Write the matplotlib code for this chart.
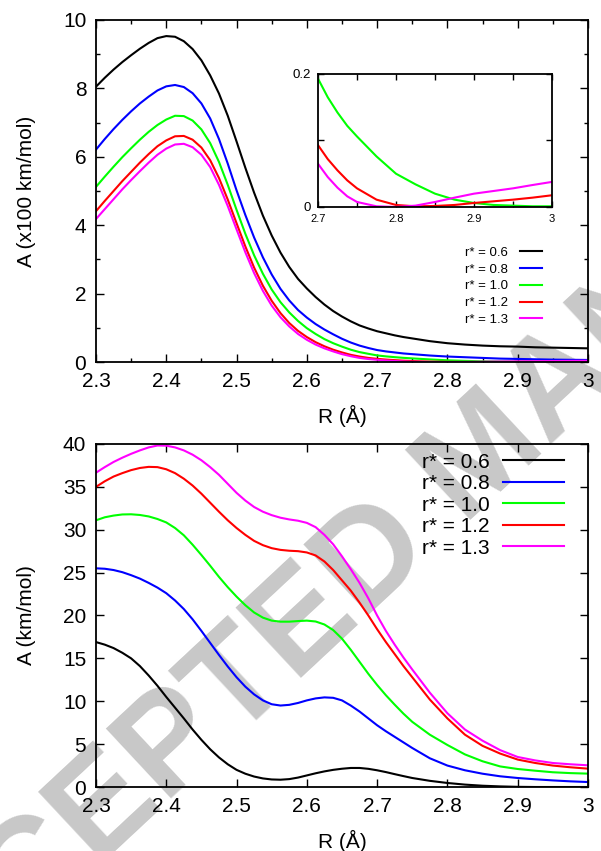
import matplotlib
matplotlib.use('Agg')
import matplotlib.pyplot as plt
from matplotlib.ticker import MultipleLocator, FuncFormatter, FixedLocator

plt.rcParams['font.family'] = ['Liberation Sans', 'DejaVu Sans']

# bond length R (Angstrom), same grid for every curve
R = [2.3000, 2.3125, 2.3250, 2.3375, 2.3500, 2.3625, 2.3750, 2.3875,
     2.4000, 2.4125, 2.4250, 2.4375, 2.4500, 2.4625, 2.4750, 2.4875,
     2.5000, 2.5125, 2.5250, 2.5375, 2.5500, 2.5625, 2.5750, 2.5875,
     2.6000, 2.6125, 2.6250, 2.6375, 2.6500, 2.6625, 2.6750, 2.6875,
     2.7000, 2.7125, 2.7250, 2.7375, 2.7500, 2.775, 2.800, 2.825,
     2.850, 2.875, 2.900, 2.925, 2.950, 2.975, 3.000]

labels = ['r* = 0.6', 'r* = 0.8', 'r* = 1.0', 'r* = 1.2', 'r* = 1.3']
colors = ['#000000', '#0000ff', '#00ff00', '#ff0000', '#ff00ff']

# top panel, A in units of 100 km/mol
top_06 = [8.05, 8.31, 8.55, 8.77, 8.97, 9.16, 9.33, 9.47,
          9.53, 9.51, 9.38, 9.15, 8.82, 8.38, 7.85, 7.20,
          6.45, 5.68, 4.95, 4.28, 3.70, 3.20, 2.78, 2.43,
          2.15, 1.90, 1.68, 1.49, 1.33, 1.19, 1.07, 0.98,
          0.90, 0.84, 0.78, 0.73, 0.69, 0.61, 0.55, 0.51,
          0.48, 0.46, 0.45, 0.43, 0.42, 0.41, 0.40]
top_08 = [6.21, 6.52, 6.81, 7.08, 7.33, 7.56, 7.76, 7.94,
          8.06, 8.10, 8.04, 7.86, 7.56, 7.12, 6.52, 5.80,
          5.02, 4.30, 3.64, 3.06, 2.56, 2.14, 1.80, 1.52,
          1.30, 1.11, 0.95, 0.81, 0.68, 0.57, 0.48, 0.41,
          0.35, 0.31, 0.28, 0.25, 0.23, 0.19, 0.16, 0.14,
          0.12, 0.10, 0.09, 0.08, 0.07, 0.065, 0.06]
top_10 = [5.12, 5.42, 5.71, 5.99, 6.25, 6.50, 6.73, 6.93,
          7.09, 7.20, 7.19, 7.06, 6.80, 6.40, 5.85, 5.18,
          4.45, 3.75, 3.12, 2.58, 2.12, 1.75, 1.45, 1.20,
          0.99, 0.82, 0.67, 0.55, 0.45, 0.36, 0.29, 0.24,
          0.193, 0.165, 0.142, 0.122, 0.106, 0.076, 0.050, 0.034,
          0.020, 0.011, 0.006, 0.003, 0.002, 0.001, 0.001]
top_12 = [4.41, 4.71, 5.00, 5.29, 5.56, 5.83, 6.08, 6.31,
          6.48, 6.60, 6.61, 6.50, 6.27, 5.90, 5.38, 4.75,
          4.06, 3.38, 2.76, 2.23, 1.79, 1.43, 1.14, 0.91,
          0.73, 0.58, 0.46, 0.36, 0.28, 0.21, 0.16, 0.12,
          0.093, 0.072, 0.055, 0.040, 0.028, 0.011, 0.003, 0.001,
          0.0015, 0.003, 0.006, 0.0085, 0.011, 0.014, 0.0176]
top_13 = [4.18, 4.47, 4.76, 5.05, 5.32, 5.58, 5.83, 6.06,
          6.24, 6.36, 6.38, 6.28, 6.06, 5.70, 5.18, 4.56,
          3.88, 3.21, 2.60, 2.08, 1.65, 1.31, 1.04, 0.82,
          0.65, 0.51, 0.40, 0.31, 0.23, 0.17, 0.12, 0.088,
          0.065, 0.045, 0.029, 0.016, 0.0075, 0.001, 0.0, 0.002,
          0.0075, 0.014, 0.020, 0.024, 0.028, 0.033, 0.0377]

# bottom panel, A in km/mol
bot_06 = [16.9, 16.6, 16.2, 15.65, 15.0, 14.1, 13.0, 11.8,
          10.5, 9.25, 8.0, 6.7, 5.5, 4.4, 3.45, 2.65,
          2.0, 1.55, 1.22, 1.0, 0.88, 0.85, 0.92, 1.1,
          1.35, 1.6, 1.82, 2.0, 2.13, 2.22, 2.22, 2.12,
          1.95, 1.74, 1.5, 1.27, 1.05, 0.72, 0.47, 0.28,
          0.15, 0.07, 0.02, 0.0, 0.0, 0.0, 0.0]
bot_08 = [25.5, 25.45, 25.3, 25.05, 24.7, 24.3, 23.8, 23.25,
          22.6, 21.75, 20.75, 19.55, 18.2, 16.8, 15.4, 14.05,
          12.8, 11.7, 10.8, 10.1, 9.65, 9.5, 9.58, 9.8,
          10.1, 10.33, 10.45, 10.4, 10.1, 9.5, 8.8, 8.0,
          7.2, 6.5, 5.85, 5.2, 4.55, 3.35, 2.5, 1.95,
          1.55, 1.25, 1.05, 0.9, 0.77, 0.66, 0.58]
bot_10 = [31.1, 31.45, 31.65, 31.78, 31.8, 31.72, 31.55, 31.25,
          30.85, 30.2, 29.35, 28.25, 27.05, 25.8, 24.5, 23.3,
          22.2, 21.2, 20.35, 19.75, 19.4, 19.28, 19.28, 19.35,
          19.4, 19.3, 18.95, 18.3, 17.3, 16.0, 14.6, 13.2,
          11.9, 10.7, 9.6, 8.55, 7.6, 6.1, 4.9, 3.8,
          3.0, 2.4, 2.1, 1.9, 1.72, 1.62, 1.56]
bot_12 = [35.0, 35.65, 36.2, 36.6, 36.95, 37.2, 37.33, 37.3,
          37.05, 36.6, 35.95, 35.15, 34.2, 33.15, 32.1, 31.1,
          30.2, 29.4, 28.7, 28.2, 27.85, 27.65, 27.55, 27.5,
          27.35, 27.0, 26.3, 25.3, 24.1, 22.9, 21.5, 20.0,
          18.4, 16.9, 15.5, 14.1, 12.8, 10.2, 8.0, 6.1,
          4.8, 3.9, 3.2, 2.8, 2.5, 2.3, 2.14]
bot_13 = [36.65, 37.3, 37.9, 38.4, 38.85, 39.25, 39.6, 39.82,
          39.8, 39.6, 39.25, 38.75, 38.1, 37.3, 36.4, 35.35,
          34.3, 33.4, 32.65, 32.1, 31.7, 31.4, 31.2, 31.05,
          30.8, 30.3, 29.4, 28.3, 26.9, 25.4, 23.8, 22.0,
          20.0, 18.2, 16.6, 15.1, 13.7, 11.0, 8.6, 6.7,
          5.4, 4.3, 3.5, 3.1, 2.8, 2.65, 2.53]

top_curves = [top_06, top_08, top_10, top_12, top_13]
bot_curves = [bot_06, bot_08, bot_10, bot_12, bot_13]

fmt = FuncFormatter(lambda v, p: '%g' % round(v, 3))

fig = plt.figure(figsize=(6.01, 8.51), dpi=100)

# watermark, sits behind the transparent axes
fig.text(0.806, 0.462, 'ACCEPTED MANUSCRIPT', rotation=43, fontsize=100,
         fontweight='bold', color='#c8c8c8', ha='center', va='center',
         rotation_mode='anchor', zorder=-10)

ax1 = fig.add_axes([0.1597, 0.5746, 0.8186, 0.4019])
ax2 = fig.add_axes([0.1597, 0.0752, 0.8186, 0.4031])
axin = fig.add_axes([0.5291, 0.7568, 0.3894, 0.1563])

# top panel
for y, c, l in zip(top_curves, colors, labels):
    ax1.plot(R, y, color=c, lw=1.5, label=l)
ax1.set_xlim(2.3, 3.0)
ax1.set_ylim(0, 10)
ax1.xaxis.set_major_locator(MultipleLocator(0.1))
ax1.xaxis.set_minor_locator(MultipleLocator(0.05))
ax1.yaxis.set_major_locator(MultipleLocator(2))
ax1.yaxis.set_minor_locator(MultipleLocator(1))
ax1.set_xlabel('R (Å)', fontsize=15, labelpad=10)
ax1.set_ylabel('A (x100 km/mol)', fontsize=15, labelpad=19)
ax1.legend(loc='upper right', bbox_to_anchor=(0.9065, 0.338), frameon=False,
           markerfirst=False, fontsize=9.5, handlelength=1.7, handletextpad=0.9,
           labelspacing=0.35, borderpad=0, borderaxespad=0)

# bottom panel
for y, c, l in zip(bot_curves, colors, labels):
    ax2.plot(R, y, color=c, lw=1.5, label=l)
ax2.set_xlim(2.3, 3.0)
ax2.set_ylim(0, 40)
ax2.xaxis.set_major_locator(MultipleLocator(0.1))
ax2.yaxis.set_major_locator(MultipleLocator(5))
ax2.set_xlabel('R (Å)', fontsize=15, labelpad=10)
ax2.set_ylabel('A (km/mol)', fontsize=15, labelpad=19)
ax2.legend(loc='upper right', bbox_to_anchor=(0.951, 0.975), frameon=False,
           markerfirst=False, fontsize=15, handlelength=2.9, handletextpad=0.65,
           labelspacing=0.12, borderpad=0, borderaxespad=0)

for ax in [ax1, ax2]:
    ax.set_facecolor('none')
    ax.xaxis.set_major_formatter(fmt)
    ax.yaxis.set_major_formatter(fmt)
    ax.tick_params(which='both', direction='in', top=True, right=True,
                   labelsize=15, width=1.0, pad=7)
    ax.tick_params(which='major', length=6)
    ax.tick_params(which='minor', length=3)
    for s in ax.spines.values():
        s.set_linewidth(1.3)

# inset: zoom of the top panel tail (only r* = 1.0, 1.2, 1.3 reach this range)
for y, c in zip(top_curves[2:], colors[2:]):
    axin.plot(R, y, color=c, lw=1.5)
axin.set_xlim(2.7, 3.0)
axin.set_ylim(0, 0.2)
axin.xaxis.set_major_locator(MultipleLocator(0.1))
axin.xaxis.set_minor_locator(MultipleLocator(0.05))
axin.yaxis.set_major_locator(FixedLocator([0, 0.2]))
axin.yaxis.set_minor_locator(FixedLocator([0.1]))
axin.xaxis.set_major_formatter(fmt)
axin.yaxis.set_major_formatter(fmt)
axin.tick_params(which='both', direction='in', top=True, right=True,
                 width=1.0, pad=5)
axin.tick_params(axis='x', labelsize=8)
axin.tick_params(axis='y', labelsize=9.5)
axin.tick_params(which='major', length=4)
axin.tick_params(which='minor', length=4)
for s in axin.spines.values():
    s.set_linewidth(1.3)

fig.savefig('out.png', dpi=100)
